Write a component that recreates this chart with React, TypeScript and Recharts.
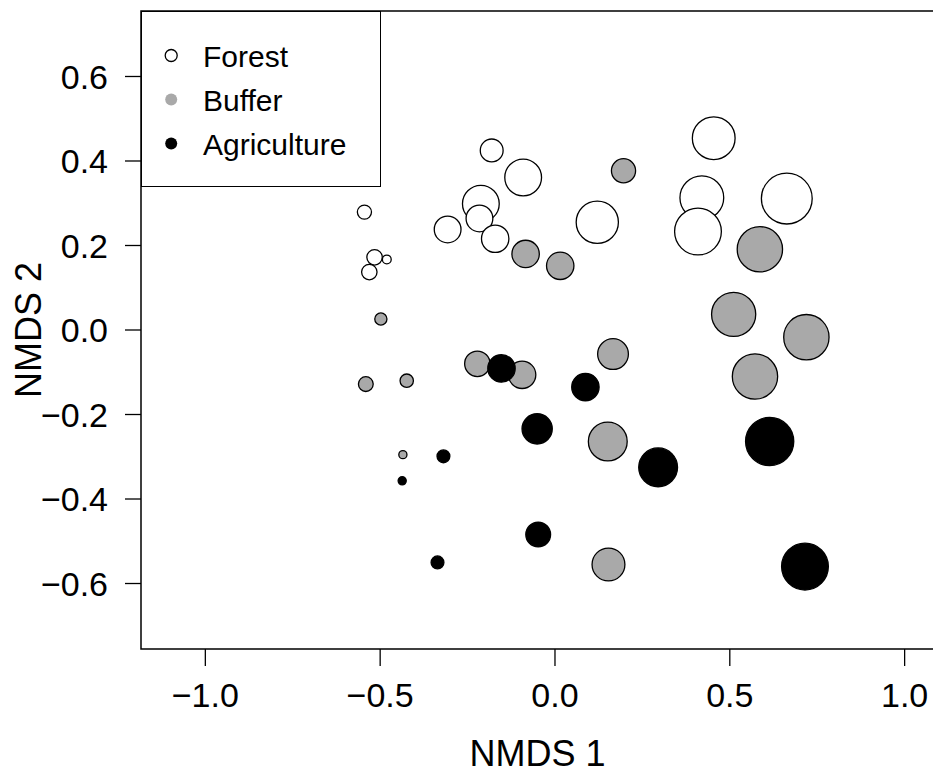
import { ScatterChart, Scatter, XAxis, YAxis, ZAxis, ReferenceArea, Legend } from "recharts";

// NMDS scores, one set of arrays per land-use group.
// "cex" is the relative symbol size used in the original figure.
const forestX = [0.454, 0.42, 0.409, 0.663, 0.121, -0.091, -0.181, -0.212, -0.216, -0.307, -0.171, -0.545, -0.516, -0.481, -0.531];
const forestY = [0.454, 0.313, 0.233, 0.311, 0.255, 0.361, 0.425, 0.299, 0.264, 0.238, 0.216, 0.279, 0.172, 0.167, 0.137];
const forestCex = [3.38, 3.46, 3.69, 4.0, 3.34, 2.92, 1.85, 2.92, 2.15, 2.15, 2.2, 1.18, 1.28, 0.77, 1.28];

const bufferX = [0.196, -0.084, 0.015, 0.586, 0.511, 0.719, 0.572, 0.166, -0.094, -0.222, -0.498, -0.541, -0.424, -0.435, 0.151, 0.153];
const bufferY = [0.377, 0.18, 0.152, 0.191, 0.037, -0.017, -0.11, -0.057, -0.106, -0.08, 0.026, -0.128, -0.12, -0.295, -0.264, -0.555];
const bufferCex = [1.95, 2.2, 2.2, 3.58, 3.49, 3.58, 3.58, 2.46, 2.2, 2.05, 1.03, 1.23, 1.12, 0.72, 3.08, 2.62];

const agriX = [-0.153, 0.087, -0.051, 0.295, -0.319, -0.437, -0.048, -0.336, 0.614, 0.715];
const agriY = [-0.091, -0.135, -0.234, -0.325, -0.299, -0.357, -0.484, -0.55, -0.264, -0.56];
const agriCex = [2.2, 2.2, 2.42, 3.08, 1.08, 0.72, 2.0, 1.08, 3.8, 3.69];

const groupNames = ["Forest", "Buffer", "Agriculture"];

const xTicks = [-1, -0.5, 0, 0.5, 1];
const yTicks = [-0.6, -0.4, -0.2, 0, 0.2, 0.4, 0.6];
const xDomain = [-1.184, 1.084];
const yDomain = [-0.755, 0.755];

const FONT = "'Liberation Sans', Arial, Helvetica, sans-serif";
const GRAY = "#a9a9a9";

function toPoints(xs: number[], ys: number[], cex: number[]) {
  return xs.map((x, i) => ({ x, y: ys[i], z: cex[i] }));
}

const forest = toPoints(forestX, forestY, forestCex);
const buffer = toPoints(bufferX, bufferY, bufferCex);
const agri = toPoints(agriX, agriY, agriCex);

const fmt = (v: number) => (v < 0 ? "\u2212" : "") + Math.abs(v).toFixed(1);

// draws a circle whose radius comes from the z axis (size = radius here)
const bubble = (fill: string) => (props: any) => {
  const { cx, cy, size } = props;
  if (cx == null || cy == null) return <g />;
  return <circle cx={cx} cy={cy} r={Math.max(size - 0.6, 1)} fill={fill} stroke="#000" strokeWidth={1.3} />;
};

function LegendBox() {
  const rows = [
    { fill: "#fff", stroke: "#000" },
    { fill: GRAY, stroke: "none" },
    { fill: "#000", stroke: "none" },
  ];
  return (
    <div
      style={{
        width: 240,
        height: 176,
        boxSizing: "border-box",
        border: "1.5px solid #000",
        background: "#fff",
      }}
    >
      <svg width={237} height={173} style={{ display: "block" }}>
        {rows.map((r, i) => (
          <g key={groupNames[i]}>
            <circle cx={29.2} cy={43.5 + i * 44} r={6} fill={r.fill} stroke={r.stroke} strokeWidth={1.3} />
            <text x={61} y={54.5 + i * 44} fontSize={30} fontFamily={FONT} fill="#000">
              {groupNames[i]}
            </text>
          </g>
        ))}
      </svg>
    </div>
  );
}

export default function App() {
  return (
    <div style={{ position: "absolute", left: 0, top: 0, width: 933, height: 773, overflow: "hidden", background: "#fff" }}>
      <ScatterChart width={934} height={773} margin={{ top: 11, right: 0, bottom: 0, left: 0 }}>
        <XAxis
          type="number"
          dataKey="x"
          domain={xDomain}
          allowDataOverflow
          ticks={xTicks}
          interval={0}
          tickFormatter={fmt}
          height={124}
          axisLine={false}
          tickLine={{ stroke: "#000", strokeWidth: 1.3 }}
          tickSize={17}
          tickMargin={17}
          tick={{ fontSize: 34, fill: "#000", fontFamily: FONT }}
          label={{ value: "NMDS 1", position: "insideBottom", offset: 7, fontSize: 36, fill: "#000", fontFamily: FONT }}
        />
        <YAxis
          type="number"
          dataKey="y"
          domain={yDomain}
          allowDataOverflow
          ticks={yTicks}
          interval={0}
          tickFormatter={fmt}
          width={141}
          axisLine={false}
          tickLine={{ stroke: "#000", strokeWidth: 1.3 }}
          tickSize={16}
          tickMargin={17}
          tick={{ fontSize: 34, fill: "#000", fontFamily: FONT }}
          label={{ value: "NMDS 2", angle: -90, position: "center", dx: -42, fontSize: 36, fill: "#000", fontFamily: FONT }}
        />
        <ZAxis type="number" dataKey="z" domain={[0, 4]} range={[0, 26]} />
        <Scatter name="Forest" data={forest} fill="#fff" shape={bubble("#fff")} isAnimationActive={false} />
        <Scatter name="Buffer" data={buffer} fill={GRAY} shape={bubble(GRAY)} isAnimationActive={false} />
        <Scatter name="Agriculture" data={agri} fill="#000" shape={bubble("#000")} isAnimationActive={false} />
        <ReferenceArea
          x1={xDomain[0]}
          x2={xDomain[1]}
          y1={yDomain[0]}
          y2={yDomain[1]}
          fill="none"
          stroke="#000"
          strokeWidth={1.5}
          ifOverflow="visible"
        />
        <Legend
          layout="vertical"
          align="center"
          verticalAlign="middle"
          content={() => <LegendBox />}
          wrapperStyle={{ position: "absolute", left: 141, top: 11, width: 240, height: 176, margin: 0 }}
        />
      </ScatterChart>
    </div>
  );
}
